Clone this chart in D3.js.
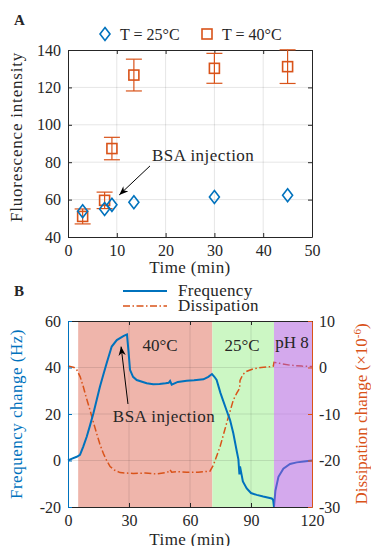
<!DOCTYPE html>
<html>
<head>
<meta charset="utf-8">
<script src="https://cdn.jsdelivr.net/npm/d3@7"></script>
<style>
  body { margin: 0; background: #fff; }
  text { font-family: "Liberation Serif", "Times New Roman", serif; fill: #262626; }
</style>
</head>
<body>
<div id="chart"></div>
<script>
// svg container
var svgWidth = 371;
var svgHeight = 546;

// ---------- panel A data ----------
var timeCool = [3, 7.5, 9, 13.5, 30, 45];
var fluorCool = [53.8, 55, 57.2, 58.6, 61.4, 62.3];

var timeWarm = [3, 7.5, 9, 13.5, 30, 45];
var fluorWarm = [51, 59.6, 87.3, 126.6, 130.2, 131.1];
var fluorWarmErr = [4, 4.4, 6, 8.5, 8, 9];

var xTicksA = [0, 10, 20, 30, 40, 50];
var yTicksA = [40, 60, 80, 100, 120, 140];

// ---------- panel B data ----------
var freqTime = [0, 2, 4.3, 5.9, 7.5, 9.2, 10.8, 12.5, 14.1, 15.7, 17.4, 19, 21.5, 24, 27.2, 28.5, 29, 29.7, 30.5, 32,
  33.8, 38.7, 41.9, 45, 48, 49.5, 50.2, 51, 54, 58.4, 62, 66.6, 69, 70.8, 72, 73.1, 75, 76.2, 78, 79.7, 81.3, 83,
  83.8, 84.3, 84.6, 86, 87.9, 90, 92.8, 96, 100.2, 100.9, 101.3, 102, 103.5, 105.9, 109.2, 112.5, 116, 120];
var freqVals = [0, 0.8, 1.6, 2.4, 6, 10.2, 15, 20.3, 26, 31.7, 37, 41.8, 49, 51.8, 53.5, 54, 54.2, 47.5, 39, 36,
  34.6, 33.2, 32.8, 32.9, 33.2, 33.4, 34.2, 32.6, 33.8, 34.3, 34.5, 34.9, 36, 37.2, 36, 34.6, 29, 26, 21.5, 17.4, 11.7, 4,
  0.5, -6, -2.5, -9, -12, -14, -14.8, -15.5, -16.3, -17, -20, -13, -7, -3.5, -1.5, -0.8, -0.4, 0];

var dissTime = [0, 1, 3, 4.3, 6, 7.5, 9, 10.8, 12.5, 14.1, 15.7, 17.4, 19, 20.7, 23, 25.6, 32.1, 38, 43.6, 48, 49.5,
  50.2, 51, 54, 58.4, 64, 69.8, 71.5, 74.8, 78, 81.3, 83, 84.4, 84.6, 86, 88, 91, 95, 100.2, 101, 101.3, 104,
  109.2, 115, 120];
var dissVals = [0.3, 0.2, 0, -0.5, -2, -4.1, -6.5, -9.1, -11.8, -14.2, -16.5, -18.5, -20, -21.3, -22.1, -22.6, -22.8, -22.7,
  -22.9, -22.6, -22.4, -22, -22.5, -22.4, -22.5, -22.5, -22.3, -21, -17, -12, -7, -5.5, -4.5, -2.8, -1.5, -0.8, -0.3, 0,
  0.2, 0.3, 1.1, 0.9, 0.5, 0.3, 0.2];

// shaded stages of the experiment
var stageNames = ["40°C", "25°C", "pH 8"];
var stageStart = [5, 71, 101.3];
var stageEnd = [71, 101.3, 120];

var xTicksB = [0, 30, 60, 90, 120];
var freqTicks = [-20, 0, 20, 40, 60];
var dissTicks = [-30, -20, -10, 0, 10];

var blue = "#0072BD";
var orange = "#D95319";

var svg = d3.select("#chart")
  .append("svg")
  .attr("width", svgWidth)
  .attr("height", svgHeight);

// plain hyphen for negatives, like the original figure
var plainFmt = d => String(d);

// ============ PANEL A ============
var xA = d3.scaleLinear().domain([0, 50]).range([68, 312]);
var yA = d3.scaleLinear().domain([40, 140]).range([237, 50]);

var gA = svg.append("g");

// grid
gA.selectAll("line.gx").data(xTicksA.slice(1, -1)).enter().append("line")
  .attr("x1", d => xA(d)).attr("x2", d => xA(d))
  .attr("y1", yA(40)).attr("y2", yA(140))
  .attr("stroke", "#000").attr("stroke-opacity", 0.1);
gA.selectAll("line.gy").data(yTicksA.slice(1, -1)).enter().append("line")
  .attr("x1", xA(0)).attr("x2", xA(50))
  .attr("y1", d => yA(d)).attr("y2", d => yA(d))
  .attr("stroke", "#000").attr("stroke-opacity", 0.1);

// axes (box with ticks inside)
function styleAxis(g, color) {
  g.select(".domain").attr("stroke", color);
  g.selectAll(".tick line").attr("stroke", color);
  g.selectAll(".tick text")
    .style("font-family", "Liberation Serif, serif")
    .style("font-size", "16px")
    .attr("fill", color);
}

var axA = gA.append("g").attr("transform", "translate(0," + yA(40) + ")")
  .call(d3.axisBottom(xA).tickValues(xTicksA).tickFormat(plainFmt).tickSizeInner(-4).tickSizeOuter(0).tickPadding(8));
styleAxis(axA, "#262626");
var axAt = gA.append("g").attr("transform", "translate(0," + yA(140) + ")")
  .call(d3.axisTop(xA).tickValues(xTicksA).tickSizeInner(-4).tickSizeOuter(0).tickFormat(""));
styleAxis(axAt, "#262626");
var ayA = gA.append("g").attr("transform", "translate(" + xA(0) + ",0)")
  .call(d3.axisLeft(yA).tickValues(yTicksA).tickFormat(plainFmt).tickSizeInner(-4).tickSizeOuter(0).tickPadding(7));
styleAxis(ayA, "#262626");
var ayAr = gA.append("g").attr("transform", "translate(" + xA(50) + ",0)")
  .call(d3.axisRight(yA).tickValues(yTicksA).tickSizeInner(-4).tickSizeOuter(0).tickFormat(""));
styleAxis(ayAr, "#262626");

// error bars
var warm = timeWarm.map((t, i) => ({ t: t, v: fluorWarm[i], e: fluorWarmErr[i] }));
var eb = gA.selectAll("g.eb").data(warm).enter().append("g")
  .attr("stroke", orange).attr("stroke-width", 1.2);
eb.append("line")
  .attr("x1", d => xA(d.t)).attr("x2", d => xA(d.t))
  .attr("y1", d => yA(d.v - d.e)).attr("y2", d => yA(d.v + d.e));
eb.append("line")
  .attr("x1", d => xA(d.t) - 8).attr("x2", d => xA(d.t) + 8)
  .attr("y1", d => yA(d.v + d.e)).attr("y2", d => yA(d.v + d.e));
eb.append("line")
  .attr("x1", d => xA(d.t) - 8).attr("x2", d => xA(d.t) + 8)
  .attr("y1", d => yA(d.v - d.e)).attr("y2", d => yA(d.v - d.e));

// squares (40°C)
gA.selectAll("rect.sq").data(warm).enter().append("rect")
  .attr("x", d => xA(d.t) - 5).attr("y", d => yA(d.v) - 5)
  .attr("width", 10).attr("height", 10)
  .attr("fill", "none").attr("stroke", orange).attr("stroke-width", 1.6);

// diamonds (25°C)
function diamond(cx, cy) {
  return "M" + cx + "," + (cy - 6.5) + "L" + (cx + 5) + "," + cy + "L" + cx + "," + (cy + 6.5) + "L" + (cx - 5) + "," + cy + "Z";
}
gA.selectAll("path.dm").data(timeCool).enter().append("path")
  .attr("d", (d, i) => diamond(xA(d), yA(fluorCool[i])))
  .attr("fill", "none").attr("stroke", blue).attr("stroke-width", 1.6);

// annotation
svg.append("defs").append("marker")
  .attr("id", "arr").attr("viewBox", "0 0 10 10").attr("refX", 10).attr("refY", 5)
  .attr("markerWidth", 9).attr("markerHeight", 9).attr("markerUnits", "userSpaceOnUse")
  .attr("orient", "auto")
  .append("path").attr("d", "M0,1 L10,5 L0,9 L3,5 Z").attr("fill", "#000");

gA.append("line")
  .attr("x1", xA(16.8)).attr("y1", yA(78))
  .attr("x2", xA(10.5)).attr("y2", yA(62.5))
  .attr("stroke", "#000").attr("stroke-width", 1).attr("marker-end", "url(#arr)");
gA.append("text").attr("x", 152).attr("y", 161)
  .style("font-size", "17px").style("letter-spacing", "0.5px").text("BSA injection");

// labels
gA.append("text").attr("x", xA(25)).attr("y", 273).attr("text-anchor", "middle")
  .style("font-size", "17px").style("letter-spacing", "0.4px").text("Time (min)");
gA.append("text").attr("transform", "translate(22,137) rotate(-90)").attr("text-anchor", "middle")
  .style("font-size", "17px").style("letter-spacing", "0.8px").text("Fluorescence intensity");
gA.append("text").attr("x", 14).attr("y", 25).style("font-size", "15px").style("font-weight", "bold").text("A");

// legend A
gA.append("path").attr("d", diamond(105, 34)).attr("fill", "none").attr("stroke", blue).attr("stroke-width", 1.6);
gA.append("text").attr("x", 120).attr("y", 40).style("font-size", "16px").text("T = 25°C");
gA.append("rect").attr("x", 202).attr("y", 29).attr("width", 10).attr("height", 10)
  .attr("fill", "none").attr("stroke", orange).attr("stroke-width", 1.6);
gA.append("text").attr("x", 222).attr("y", 40).style("font-size", "16px").text("T = 40°C");

// ============ PANEL B ============
var xB = d3.scaleLinear().domain([0, 120]).range([68, 312]);
var yF = d3.scaleLinear().domain([-20, 60]).range([507, 321]);
var yD = d3.scaleLinear().domain([-30, 10]).range([507, 321]);

var gB = svg.append("g");
var stageFill = ["#efb5ab", "#ccf7c4"];

// red + green patches under the curves
gB.selectAll("rect.stage").data([0, 1]).enter().append("rect")
  .attr("x", i => xB(stageStart[i])).attr("width", i => xB(stageEnd[i]) - xB(stageStart[i]))
  .attr("y", yF(60)).attr("height", yF(-20) - yF(60))
  .attr("fill", i => stageFill[i]);

// grid
gB.selectAll("line.gx").data(xTicksB.slice(1, -1)).enter().append("line")
  .attr("x1", d => xB(d)).attr("x2", d => xB(d))
  .attr("y1", yF(-20)).attr("y2", yF(60))
  .attr("stroke", "#000").attr("stroke-opacity", 0.1);
gB.selectAll("line.gy").data(freqTicks.slice(1, -1)).enter().append("line")
  .attr("x1", xB(0)).attr("x2", xB(120))
  .attr("y1", d => yF(d)).attr("y2", d => yF(d))
  .attr("stroke", "#000").attr("stroke-opacity", 0.1);

// curves
var freqLine = d3.line().x((d, i) => xB(freqTime[i])).y(d => yF(d));
var dissLine = d3.line().x((d, i) => xB(dissTime[i])).y(d => yD(d));

gB.append("path").attr("d", dissLine(dissVals))
  .attr("fill", "none").attr("stroke", orange).attr("stroke-width", 1.5)
  .attr("stroke-dasharray", "7,2.5,1.5,2.5");
gB.append("path").attr("d", freqLine(freqVals))
  .attr("fill", "none").attr("stroke", blue).attr("stroke-width", 2);

// purple patch laid over the curves (semi-transparent)
gB.append("rect")
  .attr("x", xB(stageStart[2])).attr("width", xB(stageEnd[2]) - xB(stageStart[2]))
  .attr("y", yF(60)).attr("height", yF(-20) - yF(60))
  .attr("fill", "rgb(170,84,220)").attr("fill-opacity", 0.5);

// stage labels
var stageLabelX = [160, 242, 292];
var stageLabelY = [351, 351, 348];
gB.selectAll("text.stage").data(stageNames).enter().append("text")
  .attr("x", (d, i) => stageLabelX[i]).attr("y", (d, i) => stageLabelY[i])
  .attr("text-anchor", "middle").style("font-size", "17px").text(d => d);

// annotation
gB.append("line")
  .attr("x1", xB(29.5)).attr("y1", yF(24.3))
  .attr("x2", xB(26.1)).attr("y2", yF(49))
  .attr("stroke", "#000").attr("stroke-width", 1).attr("marker-end", "url(#arr)");
gB.append("text").attr("x", 164).attr("y", 422).attr("text-anchor", "middle")
  .style("font-size", "17px").style("letter-spacing", "0.5px").text("BSA injection");

// axes
var axB = gB.append("g").attr("transform", "translate(0," + yF(-20) + ")")
  .call(d3.axisBottom(xB).tickValues(xTicksB).tickFormat(plainFmt).tickSizeInner(-4).tickSizeOuter(0).tickPadding(8));
styleAxis(axB, "#262626");
var axBt = gB.append("g").attr("transform", "translate(0," + yF(60) + ")")
  .call(d3.axisTop(xB).tickValues(xTicksB).tickSizeInner(-4).tickSizeOuter(0).tickFormat(""));
styleAxis(axBt, "#262626");
var ayF = gB.append("g").attr("transform", "translate(" + xB(0) + ",0)")
  .call(d3.axisLeft(yF).tickValues(freqTicks).tickFormat(plainFmt).tickSizeInner(-4).tickSizeOuter(0).tickPadding(7));
styleAxis(ayF, blue);
var ayD = gB.append("g").attr("transform", "translate(" + xB(120) + ",0)")
  .call(d3.axisRight(yD).tickValues(dissTicks).tickFormat(plainFmt).tickSizeInner(-4).tickSizeOuter(0).tickPadding(7));
styleAxis(ayD, orange);

// labels
gB.append("text").attr("x", xB(60)).attr("y", 545).attr("text-anchor", "middle")
  .style("font-size", "17px").style("letter-spacing", "0.4px").text("Time (min)");
gB.append("text").attr("transform", "translate(22,414) rotate(-90)").attr("text-anchor", "middle")
  .style("font-size", "17px").style("letter-spacing", "0.5px").style("fill", blue)
  .text("Frequency change (Hz)");
var dl = gB.append("text").attr("transform", "translate(367,414) rotate(-90)").attr("text-anchor", "middle")
  .style("font-size", "17px").style("fill", orange);
dl.append("tspan").text("Dissipation change (×10");
dl.append("tspan").attr("dy", -6).style("font-size", "11px").text("-6");
dl.append("tspan").attr("dy", 6).text(")");
gB.append("text").attr("x", 14).attr("y", 296).style("font-size", "15px").style("font-weight", "bold").text("B");

// legend B
gB.append("line").attr("x1", 123).attr("x2", 167).attr("y1", 291).attr("y2", 291)
  .attr("stroke", blue).attr("stroke-width", 2);
gB.append("text").attr("x", 178).attr("y", 296).style("font-size", "17px").style("letter-spacing", "0.3px").text("Frequency");
gB.append("line").attr("x1", 123).attr("x2", 167).attr("y1", 306).attr("y2", 306)
  .attr("stroke", orange).attr("stroke-width", 1.5).attr("stroke-dasharray", "7,2.5,1.5,2.5");
gB.append("text").attr("x", 178).attr("y", 311).style("font-size", "17px").style("letter-spacing", "0.3px").text("Dissipation");
</script>
</body>
</html>
